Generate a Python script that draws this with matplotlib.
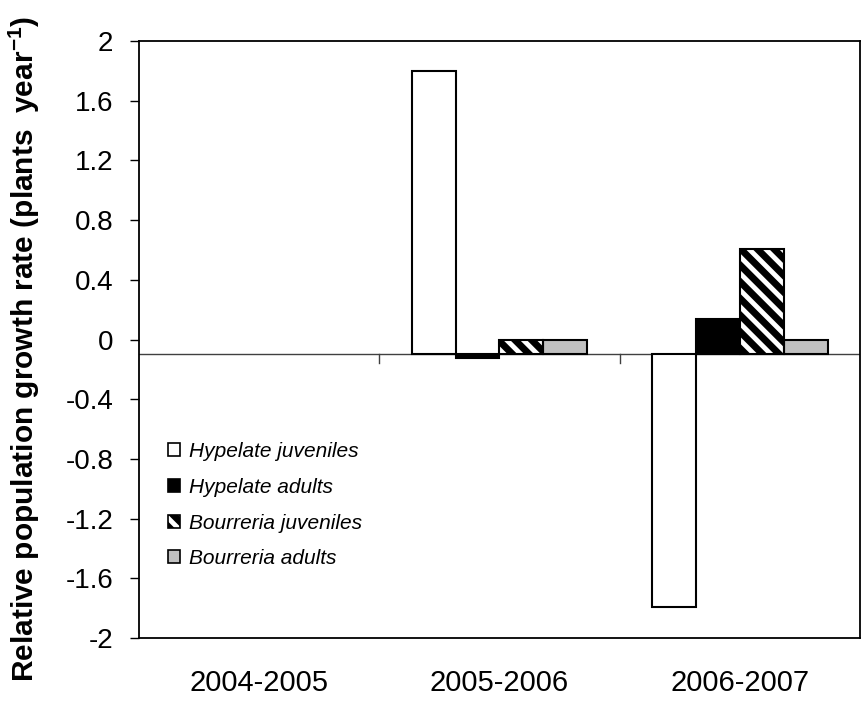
import matplotlib
matplotlib.use("Agg")
import matplotlib.pyplot as plt
import numpy as np
from matplotlib.patches import Patch

plt.rcParams['font.family'] = ['Liberation Sans', 'DejaVu Sans']
plt.rcParams['hatch.linewidth'] = 3.5

periods = ["2004-2005", "2005-2006", "2006-2007"]
series = ["Hypelate juveniles", "Hypelate adults", "Bourreria juveniles", "Bourreria adults"]
hyp_juv = [np.nan, 1.80, -1.79]
hyp_adu = [np.nan, -0.124, 0.137]
bou_juv = [np.nan, 0.0, 0.605]
bou_adu = [np.nan, 0.0, 0.0]
yticks = [-2, -1.6, -1.2, -0.8, -0.4, 0, 0.4, 0.8, 1.2, 1.6, 2]
ytick_labels = ["-2", "-1.6", "-1.2", "-0.8", "-0.4", "0", "0.4", "0.8", "1.2", "1.6", "2"]
base = -0.1

fig = plt.figure(figsize=(8.61, 7.03), dpi=100)
ax = fig.add_axes([139/861, 65/703, 721/861, 597/703])

styles = [
    dict(facecolor="white", hatch=None),
    dict(facecolor="black", hatch=None),
    dict(facecolor="black", hatch="\\\\"),
    dict(facecolor="#c0c0c0", hatch=None),
]
data = [hyp_juv, hyp_adu, bou_juv, bou_adu]
x = np.arange(len(periods))
w = 0.183
for i, (vals, st) in enumerate(zip(data, styles)):
    vals = np.array(vals, dtype=float)
    pos = x + (i - 1.5) * w
    for p, v in zip(pos, vals):
        if np.isnan(v):
            continue
        if st["hatch"]:
            ax.bar(p, v - base, bottom=base, width=w, facecolor="black",
                   edgecolor="white", hatch=st["hatch"], linewidth=0, zorder=3)
            ax.bar(p, v - base, bottom=base, width=w, facecolor="none",
                   edgecolor="black", linewidth=1.5, zorder=4)
        else:
            ax.bar(p, v - base, bottom=base, width=w, facecolor=st["facecolor"],
                   edgecolor="black", linewidth=1.5, zorder=3)

ax.set_xlim(-0.5, 2.5)
ax.set_ylim(-2, 2)
ax.set_yticks(yticks)
ax.set_yticklabels(ytick_labels)
ax.tick_params(axis='y', direction='out', length=6.5, width=1, labelsize=20, pad=12)
ax.set_xticks([])
for s in ax.spines.values():
    s.set_linewidth(1.3)

# horizontal category axis at base
ax.axhline(base, color="#404040", linewidth=1, zorder=2)
for b in [0.5, 1.5]:
    ax.plot([b, b], [base, base - 0.06], color="#404040", linewidth=1, zorder=2)
for xi, lab in zip(x, periods):
    ax.text(xi, -2.3, lab, ha="center", va="center", fontsize=21)

ax.set_ylabel("Relative population growth rate (plants  year$^{\\mathregular{-1}}$)",
              fontsize=21.5, fontweight="bold")
ax.yaxis.set_label_coords(-0.134, 0.485)

handles = []
for lab, st in zip(series, styles):
    if st["hatch"]:
        handles.append((Patch(facecolor="black", edgecolor="white", hatch="\\\\", linewidth=0),
                        Patch(facecolor="none", edgecolor="black", linewidth=1.2)))
    else:
        handles.append(Patch(facecolor=st["facecolor"], edgecolor="black", linewidth=1.2))
leg = ax.legend(handles=handles, labels=series, loc="upper left", bbox_to_anchor=(0.040, 0.328),
                frameon=False, prop=dict(style="italic", size=15),
                borderaxespad=0, borderpad=0,
                handlelength=0.6, handleheight=0.6, handletextpad=0.4, labelspacing=0.8)

fig.savefig("out.png", dpi=100)
